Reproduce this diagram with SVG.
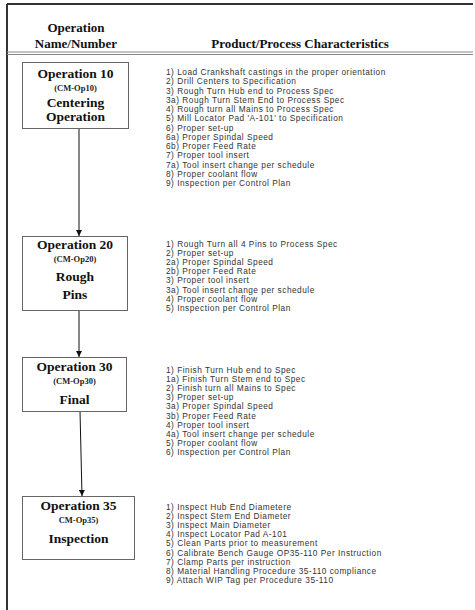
<svg xmlns="http://www.w3.org/2000/svg" width="475" height="610" viewBox="0 0 475 610">
  <defs>
    <marker id="arrow" viewBox="0 0 10 10" refX="10" refY="5" markerWidth="6" markerHeight="6" orient="auto" markerUnits="userSpaceOnUse">
      <path d="M0,0 L10,5 L0,10 z" fill="#111"/>
    </marker>
  </defs>
  <style>
    .hdr { font-family: "Liberation Serif", "Times New Roman", serif; font-weight: bold; font-size: 13px; fill: #111; text-anchor: middle; }
    .op { font-family: "Liberation Serif", "Times New Roman", serif; font-weight: bold; font-size: 13.5px; fill: #111; text-anchor: middle; }
    .code { font-family: "Liberation Serif", "Times New Roman", serif; font-weight: bold; font-size: 8.5px; fill: #222; text-anchor: middle; }
    .box { fill: #fff; stroke: #666; stroke-width: 1; }
    .list { font-family: "Liberation Sans", Arial, sans-serif; font-size: 8.3px; letter-spacing: 0.5px; fill: #333; }
    .conn { stroke: #111; stroke-width: 1; fill: none; }
    .frame { stroke: #333; stroke-width: 2; fill: none; }
    .rule { stroke: #888; stroke-width: 1.2; }
  </style>
  <rect width="475" height="610" fill="#fff"/>

  <!-- page frame -->
  <line class="frame" x1="7" y1="4" x2="473" y2="4"/>
  <line class="frame" x1="7" y1="4" x2="7" y2="610"/>

  <!-- column headings -->
  <g id="header">
    <text class="hdr" x="76" y="32">Operation</text>
    <text class="hdr" x="76" y="48">Name/Number</text>
    <text class="hdr" x="300" y="48">Product/Process Characteristics</text>
    <line class="rule" x1="7" y1="52" x2="473" y2="52"/>
    <line class="rule" x1="7" y1="54.5" x2="473" y2="54.5"/>
  </g>

  <!-- flow connectors -->
  <g id="connectors">
    <line class="conn" x1="79" y1="128" x2="79" y2="236" marker-end="url(#arrow)"/>
    <line class="conn" x1="79" y1="310" x2="79" y2="357" marker-end="url(#arrow)"/>
    <line class="conn" x1="80" y1="411" x2="82" y2="496" marker-end="url(#arrow)"/>
  </g>

  <g id="op10">
    <rect class="box" x="22.5" y="62.5" width="106" height="66"/>
    <text class="op" x="75.5" y="78">Operation 10</text>
    <text class="code" x="75.5" y="91">(CM-Op10)</text>
    <text class="op" x="75.5" y="107">Centering</text>
    <text class="op" x="75.5" y="121">Operation</text>
  </g>
  <g id="op10-list" class="list">
    <text x="166" y="75">1) Load Crankshaft castings in the proper orientation</text>
    <text x="166" y="84.25">2) Drill Centers to Specification</text>
    <text x="166" y="93.5">3) Rough Turn Hub end to Process Spec</text>
    <text x="166" y="102.75">3a) Rough Turn Stem End to Process Spec</text>
    <text x="166" y="112">4) Rough turn all Mains to Process Spec</text>
    <text x="166" y="121.25">5) Mill Locator Pad 'A-101' to Specification</text>
    <text x="166" y="130.5">6) Proper set-up</text>
    <text x="166" y="139.75">6a) Proper Spindal Speed</text>
    <text x="166" y="149">6b) Proper Feed Rate</text>
    <text x="166" y="158.25">7) Proper tool insert</text>
    <text x="166" y="167.5">7a) Tool insert change per schedule</text>
    <text x="166" y="176.75">8) Proper coolant flow</text>
    <text x="166" y="186">9) Inspection per Control Plan</text>
  </g>

  <g id="op20">
    <rect class="box" x="22.5" y="236.5" width="105" height="74"/>
    <text class="op" x="75" y="249">Operation 20</text>
    <text class="code" x="75" y="262">(CM-Op20)</text>
    <text class="op" x="75" y="281">Rough</text>
    <text class="op" x="75" y="299">Pins</text>
  </g>
  <g id="op20-list" class="list">
    <text x="166" y="247">1) Rough Turn all 4 Pins to Process Spec</text>
    <text x="166" y="256.1">2) Proper set-up</text>
    <text x="166" y="265.2">2a) Proper Spindal Speed</text>
    <text x="166" y="274.3">2b) Proper Feed Rate</text>
    <text x="166" y="283.4">3) Proper tool insert</text>
    <text x="166" y="292.5">3a) Tool insert change per schedule</text>
    <text x="166" y="301.6">4) Proper coolant flow</text>
    <text x="166" y="310.7">5) Inspection per Control Plan</text>
  </g>

  <g id="op30">
    <rect class="box" x="22.5" y="357.5" width="104" height="54"/>
    <text class="op" x="74.5" y="371">Operation 30</text>
    <text class="code" x="74.5" y="384">(CM-Op30)</text>
    <text class="op" x="74.5" y="404">Final</text>
  </g>
  <g id="op30-list" class="list">
    <text x="166" y="373">1) Finish Turn Hub end to Spec</text>
    <text x="166" y="382.1">1a) Finish Turn Stem end to Spec</text>
    <text x="166" y="391.2">2) Finish turn all Mains to Spec</text>
    <text x="166" y="400.3">3) Proper set-up</text>
    <text x="166" y="409.4">3a) Proper Spindal Speed</text>
    <text x="166" y="418.5">3b) Proper Feed Rate</text>
    <text x="166" y="427.6">4) Proper tool insert</text>
    <text x="166" y="436.7">4a) Tool insert change per schedule</text>
    <text x="166" y="445.8">5) Proper coolant flow</text>
    <text x="166" y="454.9">6) Inspection per Control Plan</text>
  </g>

  <g id="op35">
    <rect class="box" x="22.5" y="496.5" width="112" height="63"/>
    <text class="op" x="78.5" y="510">Operation 35</text>
    <text class="code" x="78.5" y="523">CM-Op35)</text>
    <text class="op" x="78.5" y="543">Inspection</text>
  </g>
  <g id="op35-list" class="list">
    <text x="166" y="510">1) Inspect Hub End Diametere</text>
    <text x="166" y="519.1">2) Inspect Stem End Diameter</text>
    <text x="166" y="528.2">3) Inspect Main Diameter</text>
    <text x="166" y="537.3">4) Inspect Locator Pad A-101</text>
    <text x="166" y="546.4">5) Clean Parts prior to measurement</text>
    <text x="166" y="555.5">6) Calibrate Bench Gauge OP35-110 Per Instruction</text>
    <text x="166" y="564.6">7) Clamp Parts per instruction</text>
    <text x="166" y="573.7">8) Material Handling Procedure 35-110 compliance</text>
    <text x="166" y="582.8">9) Attach WIP Tag per Procedure 35-110</text>
  </g>
</svg>
